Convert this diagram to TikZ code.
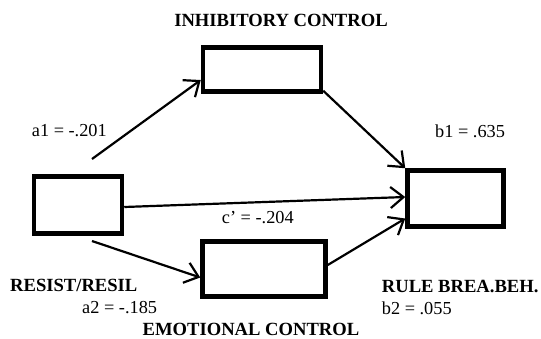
\documentclass[tikz,border=0pt]{standalone}
\usepackage{fontspec}
\setmainfont{Liberation Serif}
\usetikzlibrary{arrows.meta,calc}
\tikzset{
  box/.style={draw=black, line width=4.5pt, inner sep=0pt, fill=white},
  conn/.style={line width=2.2pt, -{Straight Barb[length=13pt,width=21pt,line width=2.2pt]}},
  lbl/.style={inner sep=0pt, font=\fontsize{18.3}{22}\selectfont},
  blbl/.style={inner sep=0pt, font=\fontsize{18.6}{22}\selectfont\bfseries},
}
\begin{document}
\begin{tikzpicture}[x=1pt,y=-1pt]
\useasboundingbox (0,0) rectangle (541,338);
% boxes
\node[box, minimum width=118pt, minimum height=44pt] (ic) at (262,69.5) {};
\node[box, minimum width=88pt, minimum height=57pt] (rr) at (78,205) {};
\node[box, minimum width=96pt, minimum height=56pt] (rb) at (455.5,198.5) {};
\node[box, minimum width=123pt, minimum height=55pt] (ec) at (264,269) {};
% free ends
\coordinate (a1s) at (92,159);
\coordinate (a2s) at (92,241);
% connectors
\draw[conn] (a1s) -- ($(ic.west)+(0,10.5)$);
\draw[conn] ($(ic.south east)+(0,-3)$) -- (rb.north west);
\draw[conn] ($(rr.east)+(0,2)$) -- ($(rb.west)+(0,-1.5)$);
\draw[conn] (a2s) -- ($(ec.west)+(0,8.5)$);
\draw[conn] ($(ec.east)+(0,-4)$) -- ($(rb.west)+(0,20)$);
% labels
\node[blbl, anchor=base] (tic) at (281,26.7) {INHIBITORY CONTROL};
\node[lbl, anchor=base west] (ta1) at (31.7,136.7) {a1 = -.201};
\node[lbl, anchor=base west] (tb1) at (435,137.3) {b1 = .635};
\node[lbl, anchor=base west] (tc) at (221.7,223.3) {c’ = -.204};
\node[blbl, anchor=base west] (trr) at (10,291) {RESIST/RESIL};
\node[lbl, anchor=base west] (ta2) at (82,313.5) {a2 = -.185};
\node[blbl, anchor=base] (tec) at (251,335) {EMOTIONAL CONTROL};
\node[blbl, anchor=base west] (trb) at (381.7,292) {RULE BREA.BEH.};
\node[lbl, anchor=base west] (tb2) at (381.7,314) {b2 = .055};
\end{tikzpicture}
\end{document}
